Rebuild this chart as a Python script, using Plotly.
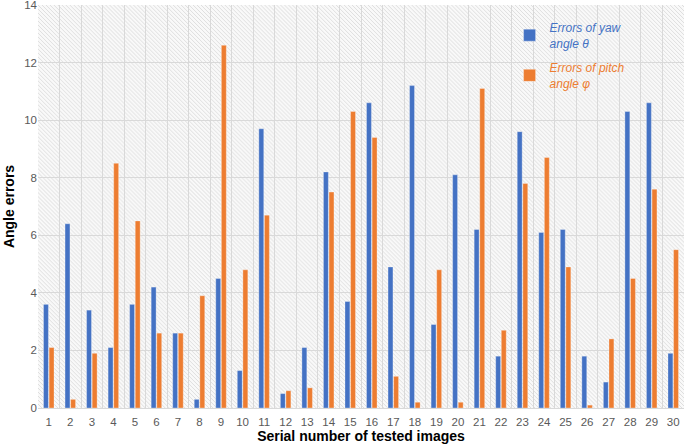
import base64
import plotly.graph_objects as go

images = [str(i) for i in range(1, 31)]
yaw_errors = [3.6, 6.4, 3.4, 2.1, 3.6, 4.2, 2.6, 0.3, 4.5, 1.3,
              9.7, 0.5, 2.1, 8.2, 3.7, 10.6, 4.9, 11.2, 2.9, 8.1,
              6.2, 1.8, 9.6, 6.1, 6.2, 1.8, 0.9, 10.3, 10.6, 1.9]
pitch_errors = [2.1, 0.3, 1.9, 8.5, 6.5, 2.6, 2.6, 3.9, 12.6, 4.8,
                6.7, 0.6, 0.7, 7.5, 10.3, 9.4, 1.1, 0.2, 4.8, 0.2,
                11.1, 2.7, 7.8, 8.7, 4.9, 0.1, 2.4, 4.5, 7.6, 5.5]
y_ticks = [0, 2, 4, 6, 8, 10, 12, 14]

BLUE = "#4472C4"
ORANGE = "#ED7D31"

# hatched background pattern (style only)
W, H = 650, 404
svg = (f'<svg xmlns="http://www.w3.org/2000/svg" width="{W}" height="{H}">'
       '<defs><pattern id="p" width="4" height="4" patternUnits="userSpaceOnUse">'
       '<rect width="4" height="4" fill="#f9f9f9"/>'
       '<path d="M-1,-1 L5,5 M-1,3 L1,5 M3,-1 L5,1" stroke="#dedede" stroke-width="1"/>'
       '</pattern></defs>'
       f'<rect width="{W}" height="{H}" fill="url(#p)"/></svg>')
src = "data:image/svg+xml;base64," + base64.b64encode(svg.encode()).decode()

fig = go.Figure()
fig.add_trace(go.Bar(
    x=images, y=yaw_errors, legendgroup="yaw",
    name="<span style='color:#4472C4'><i>Errors of yaw</i></span><br><span style='color:#4472C4'><i>angle θ</i></span>",
    marker=dict(color=BLUE, line=dict(color="rgba(255,255,255,0.6)", width=0.5)),
))
fig.add_trace(go.Bar(
    x=images, y=pitch_errors, legendgroup="pitch",
    name="<span style='color:#ED7D31'><i>Errors of pitch</i></span><br><span style='color:#ED7D31'><i>angle φ</i></span>",
    marker=dict(color=ORANGE, line=dict(color="rgba(255,255,255,0.6)", width=0.5)),
))

fig.update_layout(
    width=685, height=448,
    margin=dict(l=38, r=1, t=5, b=40),
    paper_bgcolor="white",
    plot_bgcolor="rgba(0,0,0,0)",
    barmode="group",
    bargap=0.48,
    bargroupgap=0.12,
    font=dict(family="Liberation Sans, Arial, sans-serif", size=12, color="#595959"),
    images=[dict(source=src, xref="paper", yref="paper", x=0, y=1,
                 sizex=1, sizey=1, sizing="stretch", layer="below",
                 xanchor="left", yanchor="top")],
    legend=dict(
        x=0.73, y=0.98, xanchor="left", yanchor="top",
        bgcolor="rgba(0,0,0,0)",
        font=dict(size=12),
        itemwidth=30,
        tracegroupgap=6,
        traceorder="grouped",
    ),
    xaxis=dict(
        type="category",
        tickson="boundaries",
        showgrid=True, gridcolor="#d9d9d9", gridwidth=1,
        showline=True, linecolor="#d9d9d9",
        ticks="", tickangle=0, automargin=False,
        ticklabelstandoff=3,
        tickfont=dict(size=11.5, color="#595959"),
        title=dict(text="<b>Serial number of tested images</b>",
                   font=dict(size=14, color="black"), standoff=4),
    ),
    yaxis=dict(
        range=[0, 14], tickvals=y_ticks, automargin=False,
        ticklabeloverflow="allow",
        showgrid=True, gridcolor="#d9d9d9", gridwidth=1,
        zeroline=False,
        ticks="", tickfont=dict(size=11.5, color="#595959"),
        title=dict(text="<b>Angle errors</b>",
                   font=dict(size=14, color="black"), standoff=6),
    ),
)

fig.write_html("out.html",
               config={"displayModeBar": False},
               post_script="document.body.style.margin='0';document.body.style.overflow='hidden';")
